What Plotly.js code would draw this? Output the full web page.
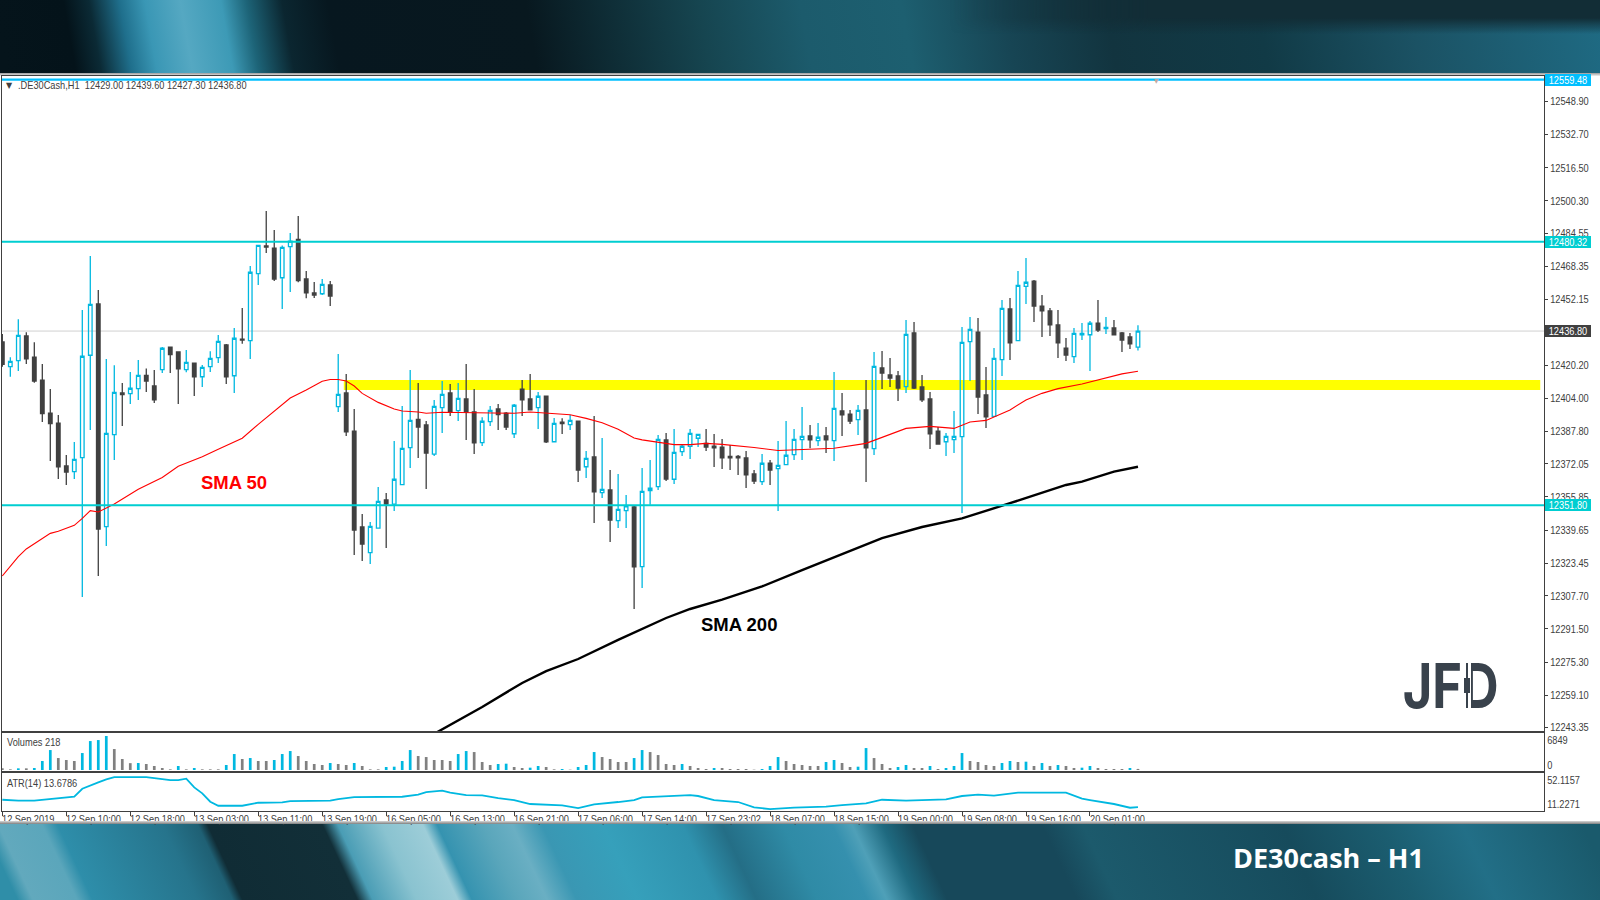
<!DOCTYPE html>
<html><head><meta charset="utf-8">
<script src="https://cdn.plot.ly/plotly-3.0.1.min.js"></script>
<style>
html,body{margin:0;padding:0;width:1600px;height:900px;overflow:hidden;background:#fff}
.abs{position:absolute}
#top{left:0;top:0;width:1600px;height:73px;background:linear-gradient(80deg,#05141b 6px,#04131a 75px,#0b2a35 100px,#1f6f8c 130px,#3a97b5 155px,#55a8c2 190px,#3d9ab6 230px,#1d6478 255px,#0b2630 290px,#07171f 335px,#08181f 530px,#164550 700px,#1c5b6c 800px,#1d5f70 900px,#174554 1000px,#12343f 1100px,#113a46 1250px,#1b5264 1400px,#1f6c85 1600px)}
#topdark{left:950px;top:0;width:650px;height:34px;background:linear-gradient(180deg,#122d36 0,#122d36 18px,rgba(18,45,54,0) 34px);-webkit-mask-image:linear-gradient(90deg,transparent 0,#000 200px)}
#shadowT{left:0;top:73px;width:1600px;height:3px;background:linear-gradient(180deg,#9a9a9a,#f0f0f0)}
#bottom{left:0;top:823px;width:1600px;height:77px;background:linear-gradient(65deg,#2f8ea8 16px,#62a9bd 30px,#5ba6bb 70px,#2e8eaa 84px,#26748c 179px,#1f6074 211px,#102c35 220px,#122f38 324px,#4a9db5 338px,#8ac3d0 378px,#9dcdd8 415px,#3593b0 428px,#5aa6bb 469px,#6aafc3 496px,#3a97b3 523px,#36a0bb 578px,#2f92ae 650px,#246e86 686px,#2f8ba6 741px,#3590ae 786px,#4fa0b8 804px,#1f6a80 831px,#17485a 859px,#17485a 976px,#1c5a6c 1013px,#164b5c 1194px,#1b5d70 1284px,#226f87 1357px,#1a5a6c 1466px)}
#shadowB{left:0;top:821px;width:1600px;height:3px;z-index:5;background:linear-gradient(180deg,#d8d8d8,#7f7f7f)}
#chart{left:0;top:0;width:1600px;height:900px;z-index:2}
.logo{z-index:6}
</style></head><body>
<div id="top" class="abs"></div><div id="topdark" class="abs"></div><div id="shadowT" class="abs"></div>
<div id="bottom" class="abs"></div><div id="shadowB" class="abs"></div>
<div id="chart" class="abs"></div>
<div class="abs logo" style="left:1461px;top:660px;width:10px;height:50px;background:#fff"></div>
<div class="abs logo" style="left:1465.5px;top:663px;width:2px;height:45px;background:#39424c"></div>
<div class="abs logo" style="left:1463.5px;top:678px;width:6px;height:15px;background:#39424c"></div>
<script>
const open_=[12431.5,12419.4,12422.4,12434.4,12424.1,12412.9,12396.8,12391.9,12371.0,12368.2,12375.0,12425.0,12450.0,12341.4,12386.3,12406.6,12406.3,12408.7,12415.2,12410.0,12418.0,12429.0,12426.6,12418.0,12421.2,12414.5,12419.4,12423.8,12430.0,12415.0,12432.9,12432.1,12464.8,12478.3,12477.3,12462.8,12478.0,12481.5,12462.2,12455.4,12455.0,12459.3,12399.9,12406.6,12388.0,12341.2,12328.7,12340.7,12354.4,12352.4,12361.9,12379.9,12393.7,12391.0,12376.8,12399.4,12406.6,12398.0,12403.7,12397.3,12382.4,12392.6,12398.8,12396.8,12386.7,12408.5,12403.7,12399.4,12405.1,12382.8,12392.4,12391.1,12392.9,12370.6,12375.4,12358.0,12359.3,12344.3,12349.2,12351.0,12321.9,12358.9,12360.9,12383.7,12364.5,12378.0,12380.6,12384.5,12382.0,12380.7,12380.2,12375.7,12375.7,12374.9,12367.1,12363.3,12372.3,12369.7,12371.6,12376.5,12383.8,12385.6,12383.3,12385.6,12383.3,12397.8,12396.3,12393.6,12398.3,12379.4,12418.8,12415.4,12414.9,12409.7,12435.9,12409.5,12403.7,12388.0,12382.8,12383.8,12385.3,12431.6,12436.3,12405.6,12395.2,12422.9,12447.6,12432.1,12458.6,12461.2,12449.0,12446.6,12439.8,12428.5,12424.3,12434.9,12435.0,12440.7,12438.0,12438.3,12435.9,12433.9,12429.0];
const high_=[12435.4,12424.0,12442.5,12436.2,12431.3,12420.7,12408.5,12395.8,12376.3,12382.7,12447.1,12473.4,12456.8,12423.2,12420.1,12411.5,12416.8,12422.7,12418.5,12417.8,12429.0,12429.0,12426.6,12427.6,12421.5,12420.2,12426.9,12434.9,12430.5,12438.3,12448.0,12468.5,12478.6,12495.4,12486.1,12478.6,12484.6,12492.9,12466.1,12460.7,12462.2,12461.2,12425.6,12415.9,12398.8,12347.5,12343.6,12360.7,12357.8,12383.2,12400.2,12417.8,12411.5,12392.9,12403.2,12412.4,12411.0,12411.5,12420.7,12408.5,12394.7,12400.2,12401.2,12397.3,12401.2,12412.9,12415.9,12407.1,12405.1,12394.4,12394.2,12395.9,12392.9,12378.3,12395.4,12384.6,12369.0,12367.1,12356.8,12351.5,12370.0,12373.9,12386.1,12387.1,12389.0,12381.7,12389.0,12386.6,12389.0,12386.6,12384.1,12381.2,12376.3,12378.3,12369.0,12376.8,12373.9,12383.2,12392.9,12389.0,12399.8,12391.0,12391.9,12390.0,12416.8,12406.6,12398.3,12400.7,12412.9,12426.6,12427.1,12423.7,12417.3,12442.2,12441.2,12415.4,12407.1,12390.0,12387.1,12397.8,12438.8,12443.7,12443.2,12419.3,12428.5,12452.0,12452.9,12466.1,12472.5,12461.7,12454.4,12448.0,12447.1,12433.4,12438.3,12440.7,12441.7,12452.0,12443.7,12442.2,12436.3,12435.9,12439.6];
const low_=[12419.4,12414.5,12417.3,12420.7,12411.6,12392.4,12373.4,12364.6,12361.7,12364.6,12307.0,12388.5,12317.3,12331.9,12373.9,12390.5,12401.2,12403.2,12407.1,12401.7,12416.3,12416.3,12401.2,12416.7,12405.1,12409.5,12416.8,12421.2,12411.0,12406.6,12430.6,12423.2,12459.3,12474.9,12461.2,12447.6,12455.9,12460.6,12452.8,12452.9,12454.4,12449.0,12397.3,12385.6,12327.5,12324.6,12323.2,12340.4,12331.0,12349.0,12361.9,12370.0,12374.9,12359.7,12375.8,12387.1,12395.4,12392.9,12383.7,12376.8,12380.7,12390.5,12388.5,12388.5,12384.6,12395.4,12398.3,12389.0,12382.2,12382.8,12386.6,12388.5,12363.2,12365.1,12343.2,12355.4,12333.9,12340.7,12340.7,12301.2,12311.4,12352.1,12359.3,12363.6,12362.2,12375.8,12374.4,12380.2,12378.3,12370.5,12369.5,12369.0,12366.6,12360.2,12362.2,12361.7,12361.7,12349.0,12371.6,12373.9,12373.9,12379.6,12380.7,12377.3,12373.4,12385.6,12391.5,12386.1,12363.2,12376.3,12408.5,12409.5,12402.7,12406.6,12408.5,12402.2,12379.3,12381.7,12375.9,12377.3,12348.0,12412.4,12396.3,12389.5,12394.9,12414.9,12422.7,12432.1,12450.0,12441.2,12433.9,12434.4,12423.7,12422.2,12421.2,12432.4,12417.3,12436.3,12435.4,12434.9,12426.6,12428.0,12427.3];
const close_=[12420.6,12422.0,12434.7,12423.3,12412.4,12396.5,12391.6,12370.6,12368.0,12374.2,12424.5,12449.8,12340.2,12386.9,12406.9,12405.8,12408.9,12415.2,12412.4,12403.2,12428.4,12425.3,12418.3,12421.5,12414.4,12419.1,12423.5,12431.8,12414.5,12433.3,12432.4,12465.5,12478.6,12477.8,12462.2,12477.6,12480.7,12461.4,12455.4,12454.4,12459.6,12453.9,12405.9,12387.6,12339.7,12332.9,12341.5,12353.7,12352.4,12364.5,12379.6,12393.2,12390.0,12377.3,12400.1,12405.9,12397.2,12404.0,12397.2,12382.2,12392.8,12398.1,12396.0,12390.0,12400.6,12403.2,12398.3,12405.0,12382.7,12391.8,12391.6,12393.2,12369.0,12374.7,12358.3,12359.6,12344.6,12349.8,12351.5,12321.7,12358.6,12360.1,12384.0,12364.6,12377.6,12380.6,12386.9,12386.4,12380.2,12379.8,12374.9,12374.9,12374.9,12366.6,12363.6,12372.3,12369.0,12371.3,12376.2,12384.0,12385.4,12383.7,12385.0,12383.7,12399.1,12395.9,12392.9,12398.1,12379.8,12419.6,12416.3,12413.9,12409.0,12435.2,12409.0,12403.2,12386.6,12381.7,12385.4,12385.4,12431.3,12437.6,12404.6,12394.9,12423.5,12447.9,12431.0,12459.1,12460.6,12449.0,12446.6,12439.8,12431.0,12425.1,12435.7,12435.7,12440.6,12437.3,12438.6,12434.9,12432.4,12430.5,12436.8];
const sma50Bars=[0,2,3,6,7,9,10,11,12,14,17,20,22,25,27,30,32,34,36,38,40,41,42,43,44,45,47,49,50,52,53,55,58,59,64,66,69,71,73,75,77,79,80,82,84,86,88,90,92,94,97,99,104,108,111,113,116,119,121,123,126,128,130,132,135,137,140,142];
const sma50=[12317.3,12326.7,12330.5,12338.1,12339.1,12342.0,12345.4,12349.2,12348.5,12352.4,12359.6,12365.4,12370.8,12375.5,12379.1,12384.5,12391.3,12397.6,12404.1,12408.0,12412.3,12413.2,12413.2,12412.4,12410.0,12406.4,12402.0,12398.8,12397.8,12397.3,12396.7,12397.2,12397.0,12396.7,12396.7,12397.3,12396.5,12396.0,12394.2,12392.1,12388.9,12384.6,12383.7,12382.5,12381.4,12381.4,12382.0,12381.5,12380.9,12380.0,12378.5,12378.8,12379.6,12382.0,12386.3,12389.3,12390.3,12389.3,12392.4,12393.2,12398.3,12403.2,12406.4,12408.7,12411.0,12412.9,12415.9,12417.2];
const sma200Bars=[54,60,65,68,72,77,83,86,90,95,100,105,110,115,120,126,133,135,139,142];
const sma200=[12240.3,12253.4,12265.1,12270.9,12276.8,12286.1,12296.8,12301.2,12305.8,12312.2,12320.2,12328.0,12335.8,12341.2,12345.4,12352.8,12361.7,12363.3,12368.2,12370.6];
const volumes=[335,134,335,335,402,1809,4020,2412,2010,1809,3417,5829,6030,6849,4221,2211,1380,1407,1206,804,402,134,804,134,402,134,134,134,1005,3216,2211,2412,1809,1809,2010,3216,3819,2814,1809,1206,1005,1407,1206,1005,1407,804,134,134,603,670,1809,4020,2814,2613,2010,2010,1809,3216,3819,3618,1608,1005,1206,1273,603,402,469,804,603,134,201,67,603,1005,3618,2613,2211,1608,1608,2412,4020,3618,3015,1206,1005,1206,804,402,201,402,402,201,201,201,67,201,804,2613,1809,1206,1005,804,804,1608,2010,1407,603,670,4422,2412,1206,402,603,1005,402,402,804,201,402,804,3417,1809,1608,1005,804,1407,1809,1608,1675,804,1407,804,1005,804,402,469,804,402,201,201,201,402,218];
const atrBars=[0,2,4,6,8,9,10,11,12,13,14,18,19,20,21,22,23,24,25,26,27,30,31,32,35,36,41,42,44,50,52,53,55,56,58,60,62,64,66,68,70,72,74,77,79,80,84,86,87,89,92,94,96,99,103,105,108,110,113,118,120,122,124,126,127,133,135,136,139,141,142];
const atr=[23.0,21.8,21.8,23.9,26.0,26.8,36.9,41.2,45.0,48.7,51.7,51.7,50.4,50.0,47.9,47.9,49.6,38.6,31.0,20.5,15.4,15.4,17.1,19.2,19.6,21.3,21.8,23.9,26.4,26.8,29.4,32.7,34.4,31.9,28.9,28.5,25.1,22.6,17.6,16.7,15.9,12.5,17.1,20.1,22.6,26.0,28.1,28.9,27.7,22.6,20.1,13.3,11.2,12.9,14.2,16.3,18.4,23.0,21.8,23.5,27.7,29.4,28.1,31.0,31.9,31.9,24.3,22.6,17.6,12.9,13.68];
const priceTicks=[12548.90,12532.70,12516.50,12500.30,12484.55,12468.35,12452.15,12420.20,12404.00,12387.80,12372.05,12355.85,12339.65,12323.45,12307.70,12291.50,12275.30,12259.10,12243.35];
const timeBars=[0,8,16,24,32,40,48,56,64,72,80,88,96,104,112,120,128,136];
const timeLabels=['12 Sep 2019','12 Sep 10:00','12 Sep 18:00','13 Sep 03:00','13 Sep 11:00','13 Sep 19:00','16 Sep 05:00','16 Sep 13:00','16 Sep 21:00','17 Sep 06:00','17 Sep 14:00','17 Sep 23:02','18 Sep 07:00','18 Sep 15:00','19 Sep 00:00','19 Sep 08:00','19 Sep 16:00','20 Sep 01:00'];
const levelHigh=12480.32, levelLow=12351.80, lastPrice=12436.80, topPrice=12559.48;
const zoneTop=12412.9, zoneBottom=12408.05;

const F="'Liberation Sans',sans-serif";
const INK='#404040', BLUE='#00b8e0', CYAN='#00ced1';
const L=2,R=1544.5,H=900,NARROW=0.84;
const X=p=>(p-L)/(R-L), Y=p=>1-p/H, dom=(a,b)=>[1-b/H,1-a/H];
const idx=open_.map((_,i)=>i);
const xr=[-0.04,192.77];
const traces=[
 {type:'candlestick',x:idx,open:open_,high:high_,low:low_,close:close_,xaxis:'x',yaxis:'y',whiskerwidth:0,hoverinfo:'skip',
  increasing:{line:{color:BLUE,width:1.3},fillcolor:'rgba(0,0,0,0)'},
  decreasing:{line:{color:INK,width:1.3},fillcolor:INK}},
 {type:'scatter',mode:'lines',x:sma50Bars,y:sma50,xaxis:'x',yaxis:'y',line:{color:'#ff0000',width:1.1},hoverinfo:'skip'},
 {type:'scatter',mode:'lines',x:sma200Bars,y:sma200,xaxis:'x',yaxis:'y',line:{color:'#000000',width:2.4},hoverinfo:'skip'},
 {type:'bar',x:idx,y:volumes,xaxis:'x2',yaxis:'y2',width:0.34,hoverinfo:'skip',
  marker:{color:volumes.map((v,i)=>i>0&&v>volumes[i-1]?BLUE:'#808080'),line:{width:0}}},
 {type:'scatter',mode:'lines',x:atrBars,y:atr,xaxis:'x3',yaxis:'y3',line:{color:BLUE,width:1.8},hoverinfo:'skip'}
];
const xbase={range:xr,showgrid:false,zeroline:false,showline:true,mirror:true,linecolor:INK,linewidth:1,fixedrange:true,ticks:'',showticklabels:false};
const ybase={showgrid:false,zeroline:false,showline:true,mirror:true,linecolor:INK,linewidth:1,side:'right',fixedrange:true,tickfont:{family:F,size:11,color:INK},tickcolor:INK};
const tag=(v,bg,txt)=>({xref:'paper',yref:'y',x:X(1546),y:v,xanchor:'left',yanchor:'middle',text:txt,showarrow:false,bgcolor:bg,width:46,height:12,borderpad:0,borderwidth:0,font:{family:F,size:11,color:'#fff'},align:'center'});
const note=(px,py,txt,o)=>Object.assign({xref:'paper',yref:'paper',x:X(px),y:Y(py),xanchor:'left',yanchor:'middle',text:txt,showarrow:false,font:{family:F,size:11,color:INK}},o||{});
const annotations=[
 note(16,85,'.DE30Cash,H1  12429.00 12439.60 12427.30 12436.80'),
 note(4,85,'▼',{font:{family:'DejaVu Sans',size:8,color:INK}}),
 note(5,742,'Volumes 218'),
 note(5,782.5,'ATR(14) 13.6786'),
 note(234,482,'SMA 50',{xanchor:'center',font:{family:'Liberation Sans',size:18.5,color:'#ff0000',weight:700}}),
 note(739,624,'SMA 200',{xanchor:'center',font:{family:'Liberation Sans',size:18.5,color:'#000',weight:700}}),
 note(1451,685,'JFD',{xanchor:'center',font:{family:'Inter',size:62,color:'#39424c',weight:700}}),
 note(1329,857,'DE30cash – H1',{xanchor:'center',font:{family:'Open Sans',size:27,color:'#fff',weight:700}}),
 note(1152,80,'▼',{font:{family:'DejaVu Sans',size:6,color:'#c4a8a0'}}),
 tag(topPrice,'#00bfff',topPrice.toFixed(2)),
 tag(levelHigh,CYAN,levelHigh.toFixed(2)),
 tag(lastPrice,INK,lastPrice.toFixed(2)),
 tag(levelLow,CYAN,levelLow.toFixed(2))
];
const tagTexts=[topPrice,levelHigh,lastPrice,levelLow].map(v=>v.toFixed(2));
timeLabels.forEach((t,i)=>annotations.push({xref:'x3',yref:'paper',x:timeBars[i],xshift:-2,y:Y(819),xanchor:'left',yanchor:'middle',text:t,showarrow:false,font:{family:F,size:11,color:INK}}));
const hline=(v,c,w,layer)=>({type:'line',xref:'paper',yref:'y',x0:0,x1:1,y0:v,y1:v,layer:layer,line:{color:c,width:w}});
const layout={
 width:1600,height:900,margin:{l:L,r:1600-R,t:0,b:0,pad:0},paper_bgcolor:'rgba(0,0,0,0)',plot_bgcolor:'#fff',showlegend:false,boxgap:0.36,bargap:0.6,
 xaxis:Object.assign({},xbase,{anchor:'y',rangeslider:{visible:false}}),
 xaxis2:Object.assign({},xbase,{anchor:'y2'}),
 xaxis3:Object.assign({},xbase,{anchor:'y3',ticks:'outside',ticklen:4,tickcolor:INK,tickmode:'array',tickvals:timeBars}),
 yaxis:Object.assign({},ybase,{domain:dom(76,731),range:[12241.67,12561.24],tickmode:'array',tickvals:priceTicks,ticktext:priceTicks.map(v=>v.toFixed(2)),ticks:'outside',ticklen:3}),
 yaxis2:Object.assign({},ybase,{domain:dom(733,771),range:[-201,7452],tickmode:'array',tickvals:[1067,6042],ticktext:['0','6849'],ticks:'',ticklen:0}),
 yaxis3:Object.assign({},ybase,{domain:dom(773,811),range:[8.75,56.8],tickmode:'array',tickvals:[17.2,47.6],ticktext:['11.2271','52.1157'],ticks:'',ticklen:0}),
 shapes:[
  {type:'rect',xref:'x',yref:'y',x0:42.7,x1:192.3,y0:zoneBottom,y1:zoneTop,layer:'below',fillcolor:'#ffff00',line:{width:0}},
  hline(lastPrice,'#d0d0d0',1,'below'),
  hline(levelHigh,CYAN,2,'above'),
  hline(levelLow,CYAN,2,'above'),
  hline(topPrice,'#00bfff',2.4,'above')
 ],
 annotations:annotations
};
Plotly.newPlot('chart',traces,layout,{staticPlot:true,displayModeBar:false}).then(()=>{
 // The platform font of the terminal is narrower than any installed one: condense the small labels.
 const squeeze=(t,len)=>{t.setAttribute('lengthAdjust','spacingAndGlyphs');t.setAttribute('textLength',len);};
 document.querySelectorAll('#chart text').forEach(t=>{
  const size=parseFloat(t.style.fontSize), w=t.getComputedTextLength();
  if(t.textContent==='JFD'){squeeze(t,96);return;}
  if(size!==11)return;
  squeeze(t,w*NARROW);
  if(t.closest('.annotation')&&!tagTexts.includes(t.textContent)){
   t.setAttribute('x',parseFloat(t.getAttribute('x'))-w*(1-NARROW)/2);
  }
 });
});
</script>
</body></html>
